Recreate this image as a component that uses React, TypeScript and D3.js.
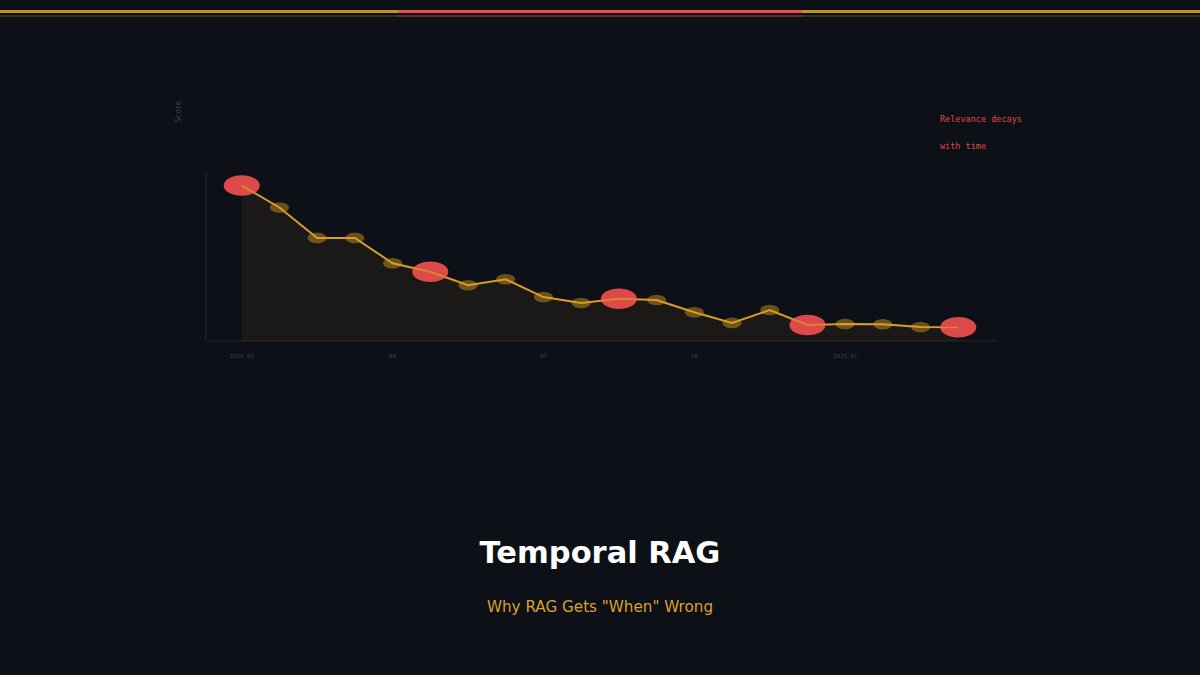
import React from "react";
import * as d3 from "d3";

const W = 1200;
const H = 675;

const scores = [0.92, 0.79, 0.61, 0.61, 0.46, 0.41, 0.33, 0.365, 0.26, 0.225, 0.25, 0.243, 0.17, 0.107, 0.183, 0.095, 0.101, 0.099, 0.083, 0.081];
const highlightIdx = [0, 5, 10, 15, 19];
const tickIdx = [0, 4, 8, 12, 16];
const tickLabels = ["2024.01", "04", "07", "10", "2025.01"];
const annotationLines = ["Relevance decays", "with time"];
const title = "Temporal RAG";
const subtitle = 'Why RAG Gets "When" Wrong';

const GOLD = "#d89e24";
const RED = "#e84d4d";
const BG = "#0d1017";

export default function App() {
  const x = d3.scaleLinear().domain([-1, 20]).range([204, 996]);
  const y = d3.scaleLinear().domain([0, 1]).range([341, 172]);
  const idx = scores.map((_, i) => i);

  const line = d3
    .line<number>()
    .x((i) => x(i))
    .y((i) => y(scores[i]));
  const area = d3
    .area<number>()
    .x((i) => x(i))
    .y0(y(0))
    .y1((i) => y(scores[i]));

  return (
    <svg
      width={W}
      height={H}
      viewBox={`0 0 ${W} ${H}`}
      style={{ position: "fixed", left: 0, top: 0, display: "block" }}
    >
      <rect x={0} y={0} width={W} height={H} fill={BG} />
      {/* top bar */}
      <rect x={0} y={10} width={W} height={3} fill={GOLD} opacity={0.9} />
      <rect x={398} y={10} width={404} height={3} fill={RED} />
      <rect x={0} y={15} width={W} height={2} fill={GOLD} opacity={0.2} />
      <rect x={398} y={15} width={404} height={2} fill={RED} opacity={0.2} />

      {/* axes */}
      <line x1={x(-1) + 2} x2={x(-1) + 2} y1={y(1)} y2={y(0)} stroke="#1b1f28" strokeWidth={1.5} />
      <line x1={x(-1) + 2} x2={x(20)} y1={y(0)} y2={y(0)} stroke="#1b1f28" strokeWidth={1.5} />

      {/* area */}
      <path d={area(idx) || ""} fill={GOLD} fillOpacity={0.07} />
      {/* line */}
      <path d={line(idx) || ""} fill="none" stroke={GOLD} strokeWidth={2} />

      {/* points */}
      {idx.map((i) =>
        highlightIdx.includes(i) ? null : (
          <ellipse key={i} cx={x(i)} cy={y(scores[i])} rx={9.6} ry={5.3} fill={GOLD} fillOpacity={0.45} />
        )
      )}
      {highlightIdx.map((i) => (
        <ellipse key={"h" + i} cx={x(i)} cy={y(scores[i])} rx={18} ry={10.2} fill={RED} fillOpacity={0.95} />
      ))}
      {highlightIdx.map((i) => {
        const seg = [Math.max(0, i - 1), i, Math.min(scores.length - 1, i + 1)];
        return (
          <path key={"l" + i} d={line(seg) || ""} fill="none" stroke={GOLD} strokeWidth={2} opacity={0.6} clipPath={`url(#c${i})`} />
        );
      })}
      <defs>
        {highlightIdx.map((i) => (
          <clipPath key={"c" + i} id={`c${i}`}>
            <ellipse cx={x(i)} cy={y(scores[i])} rx={18} ry={10.2} />
          </clipPath>
        ))}
      </defs>

      {/* ticks */}
      {tickIdx.map((ti, k) => (
        <text
          key={ti}
          x={x(ti)}
          y={358}
          textAnchor="middle"
          fontFamily="'DejaVu Sans Mono', monospace"
          fontSize={5.8}
          fill="#3d414a"
        >
          {tickLabels[k]}
        </text>
      ))}

      {/* y label */}
      <text
        transform="translate(181,112) rotate(-90)"
        textAnchor="middle"
        fontFamily="'DejaVu Sans', sans-serif"
        fontSize={8}
        fill="#3b3f48"
      >
        Score
      </text>

      {/* annotation */}
      {annotationLines.map((t, k) => (
        <text
          key={t}
          x={940}
          y={122 + k * 27}
          fontFamily="'DejaVu Sans Mono', monospace"
          fontSize={8.5}
          fill="#e04848"
        >
          {t}
        </text>
      ))}

      {/* titles */}
      <text
        x={600}
        y={563}
        textAnchor="middle"
        fontFamily="'DejaVu Sans', sans-serif"
        fontWeight="bold"
        fontSize={30.5}
        fill="#ffffff"
      >
        {title}
      </text>
      <text
        x={600}
        y={612}
        textAnchor="middle"
        fontFamily="'DejaVu Sans', sans-serif"
        fontSize={15.2}
        fill="#d9a22a"
      >
        {subtitle}
      </text>
    </svg>
  );
}
